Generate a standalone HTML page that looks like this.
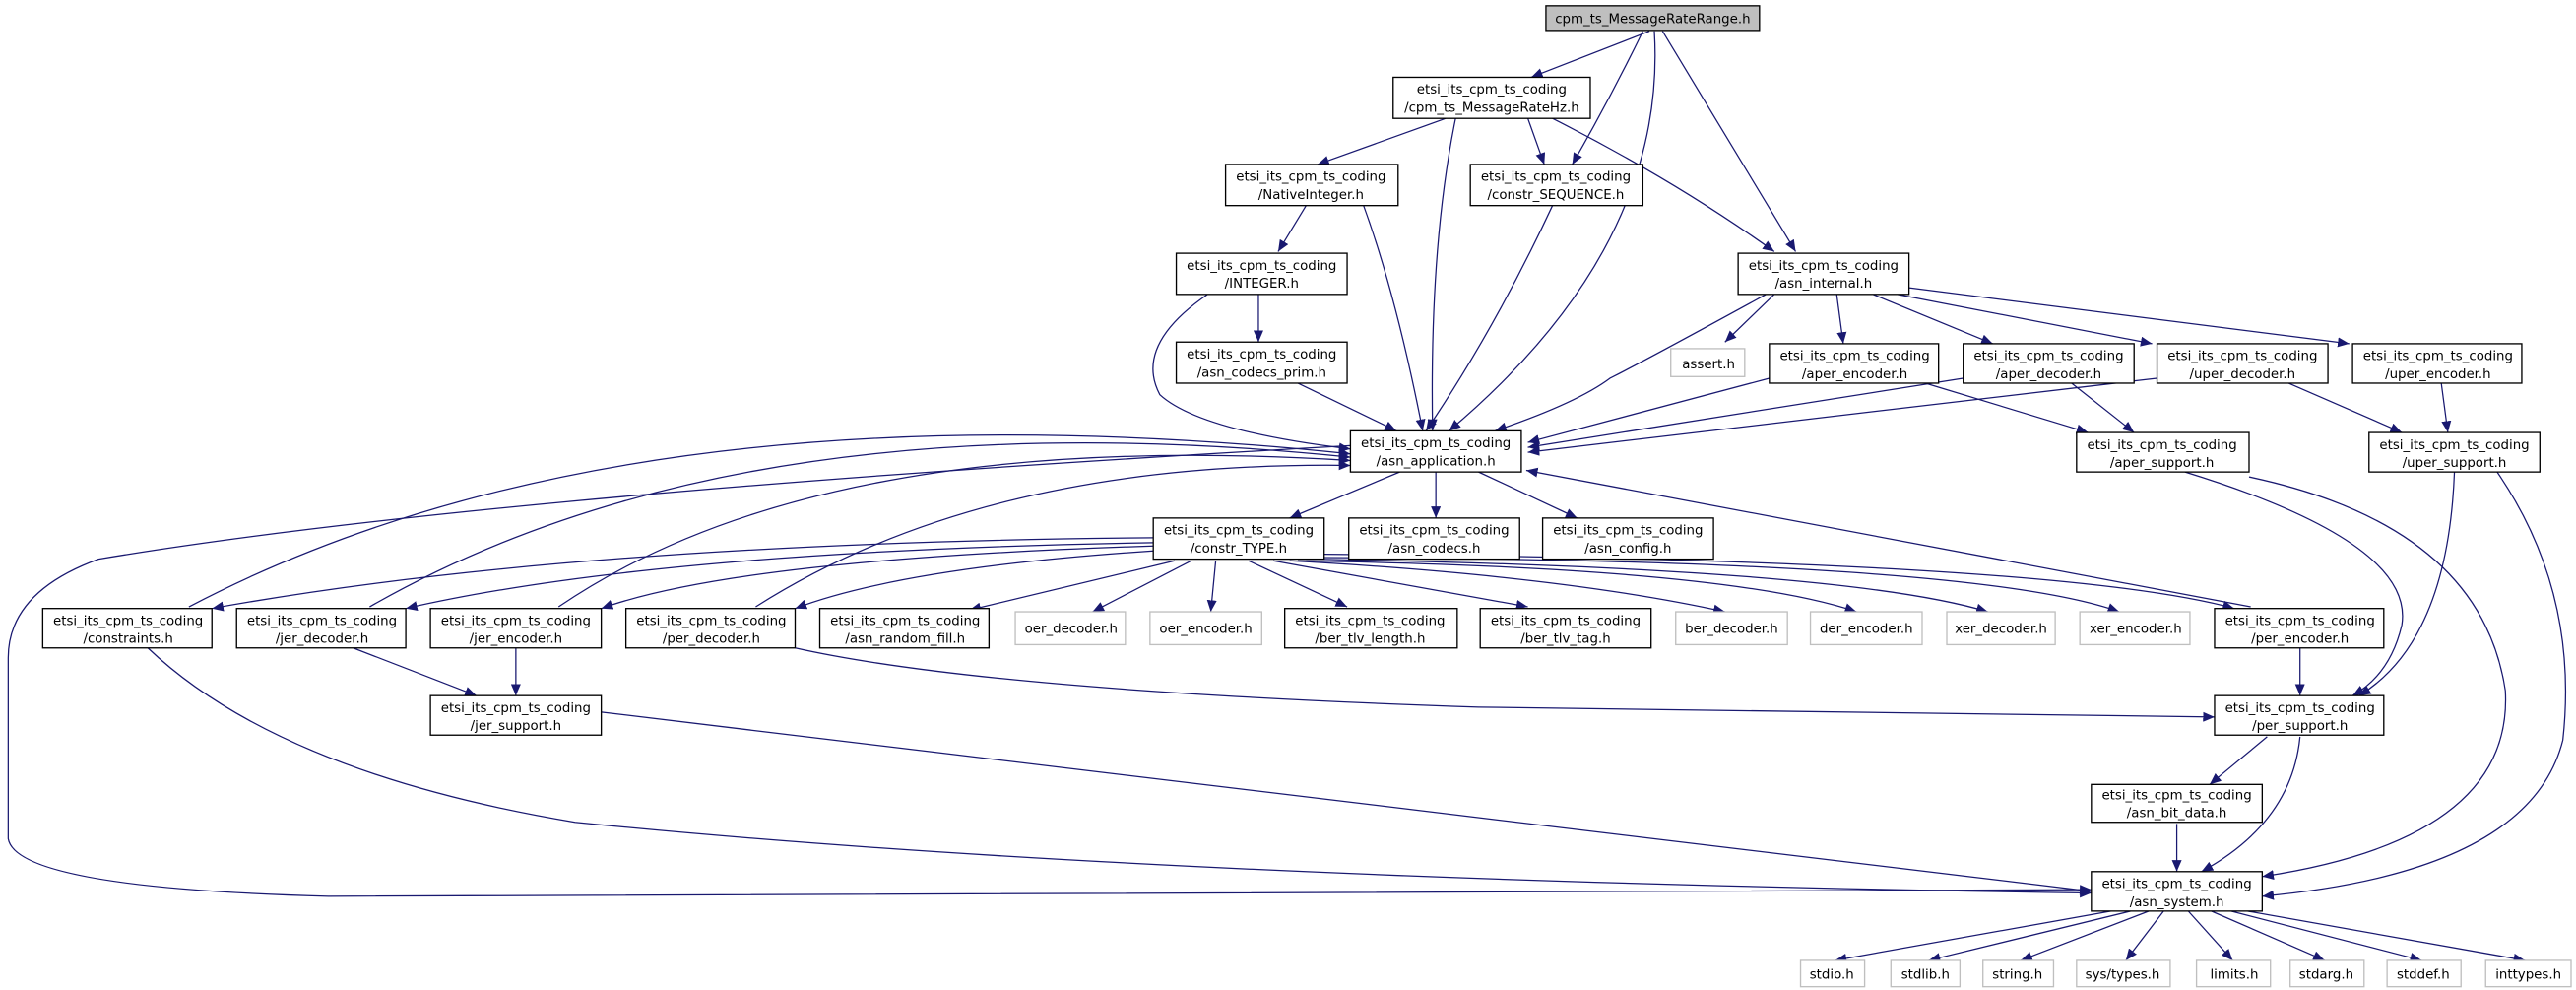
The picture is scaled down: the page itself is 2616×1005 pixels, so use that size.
<!DOCTYPE html>
<html><head><meta charset="utf-8"><style>
html,body{margin:0;padding:0;background:#fff;}
svg{display:block;}
text{font-family:"DejaVu Sans","Liberation Sans",sans-serif;font-size:8px;text-anchor:middle;fill:#000;}
.e{fill:none;stroke:#191970;stroke-width:0.75;}
.n{fill:#fff;stroke:#000;stroke-width:0.8;}
.g{fill:#fff;stroke:#bfbfbf;stroke-width:0.8;}
</style></head><body>
<svg width="2616" height="1005" viewBox="0 0 1568 602" preserveAspectRatio="none" xmlns="http://www.w3.org/2000/svg">
<defs>
<marker id="a" markerUnits="userSpaceOnUse" markerWidth="8" markerHeight="6" refX="7" refY="3" orient="auto">
<path d="M0,0 L7,3 L0,6 z" fill="#191970"/></marker>
</defs>
<g marker-end="url(#a)">
<path class="e" d="M1004,19 L932,47"/>
<path class="e" d="M1000,19 Q980,60 957,100"/>
<path class="e" d="M1007,19 Q1015,150 882,262"/>
<path class="e" d="M1012,19 L1093,153"/>
<path class="e" d="M880,72 L802,100"/>
<path class="e" d="M886,72 Q870,150 872,262"/>
<path class="e" d="M930,72 L940,100"/>
<path class="e" d="M945,72 Q1020,110 1080,153"/>
<path class="e" d="M795,125 L778,153"/>
<path class="e" d="M830,125 Q850,180 866,262"/>
<path class="e" d="M945,125 Q910,200 868,262"/>
<path class="e" d="M766,179 L766,208"/>
<path class="e" d="M735,179 Q690,210 706,240 Q730,262 822,273"/>
<path class="e" d="M790,233 L850,262"/>
<path class="e" d="M1075,179 Q1000,220 980,230 Q960,245 910,262"/>
<path class="e" d="M1080,179 L1050,208"/>
<path class="e" d="M1118,179 L1122,209"/>
<path class="e" d="M1140,179 L1213,209"/>
<path class="e" d="M1155,179 L1310,209"/>
<path class="e" d="M1162,175 L1430,209"/>
<path class="e" d="M1077,230 L930,269"/>
<path class="e" d="M1195,230 L930,272"/>
<path class="e" d="M1313,230 L930,275"/>
<path class="e" d="M1172,233 L1271,263"/>
<path class="e" d="M1261,233 L1299,263"/>
<path class="e" d="M1393,233 L1462,263"/>
<path class="e" d="M1486,233 L1490,263"/>
<path class="e" d="M852,287 L785,315"/>
<path class="e" d="M874,287 L874,315"/>
<path class="e" d="M900,287 L960,315"/>
<path class="e" d="M115,369 Q380,230 822,276"/>
<path class="e" d="M225,369 Q450,240 822,278"/>
<path class="e" d="M340,369 Q500,260 822,280"/>
<path class="e" d="M460,369 Q600,280 822,283"/>
<path class="e" d="M1370,369 L929,286"/>
<path class="e" d="M822,271 Q300,300 60,340 Q5,360 5,400 L5,510 Q10,540 200,545 Q800,545 1273,541"/>
<path class="e" d="M702,327 Q350,330 129,370"/>
<path class="e" d="M702,330 Q400,335 247,370"/>
<path class="e" d="M702,332 Q450,340 366,370"/>
<path class="e" d="M702,335 Q550,345 484,370"/>
<path class="e" d="M715,341 L590,371"/>
<path class="e" d="M725,341 L665,372"/>
<path class="e" d="M740,341 L737,372"/>
<path class="e" d="M760,341 L820,369"/>
<path class="e" d="M775,341 L930,369"/>
<path class="e" d="M785,341 Q950,350 1050,372"/>
<path class="e" d="M790,341 Q1050,345 1130,372"/>
<path class="e" d="M795,340 Q1120,345 1210,372"/>
<path class="e" d="M800,339 Q1200,340 1290,372"/>
<path class="e" d="M806,337 Q1250,340 1360,370"/>
<path class="e" d="M90,394 Q170,470 350,500 Q700,535 1273,543"/>
<path class="e" d="M215,394 L290,423"/>
<path class="e" d="M314,394 L314,423"/>
<path class="e" d="M366,433 L1273,542"/>
<path class="e" d="M484,394 Q600,420 900,430 L1348,436"/>
<path class="e" d="M1400,394 L1400,423"/>
<path class="e" d="M1330,287 Q1470,330 1462,380 Q1455,410 1432,423"/>
<path class="e" d="M1369,290 Q1510,320 1525,420 Q1530,510 1377,533"/>
<path class="e" d="M1494,287 Q1490,390 1436,423"/>
<path class="e" d="M1520,287 Q1570,360 1560,450 Q1540,530 1377,545"/>
<path class="e" d="M1380,448 L1345,477"/>
<path class="e" d="M1400,448 Q1395,500 1340,530"/>
<path class="e" d="M1325,501 L1325,530"/>
<path class="e" d="M1285,554 L1117,584"/>
<path class="e" d="M1297,554 L1174,584"/>
<path class="e" d="M1308,554 L1230,584"/>
<path class="e" d="M1317,554 L1294,584"/>
<path class="e" d="M1332,554 L1359,584"/>
<path class="e" d="M1346,554 L1415,584"/>
<path class="e" d="M1358,554 L1474,584"/>
<path class="e" d="M1368,554 L1537,584"/>
</g>

<rect x="941" y="3.5" width="130" height="15" fill="#bfbfbf" stroke="#000" stroke-width="0.8"/><text x="1006" y="14">cpm_ts_MessageRateRange.h</text>
<g>
<rect class="n" x="848" y="47" width="120" height="25"/><text x="908" y="57">etsi_its_cpm_ts_coding</text><text x="908" y="68">/cpm_ts_MessageRateHz.h</text>
<rect class="n" x="746" y="100" width="105" height="25"/><text x="798" y="110">etsi_its_cpm_ts_coding</text><text x="798" y="121">/NativeInteger.h</text>
<rect class="n" x="895" y="100" width="105" height="25"/><text x="947" y="110">etsi_its_cpm_ts_coding</text><text x="947" y="121">/constr_SEQUENCE.h</text>
<rect class="n" x="716" y="154" width="104" height="25"/><text x="768" y="164">etsi_its_cpm_ts_coding</text><text x="768" y="175">/INTEGER.h</text>
<rect class="n" x="716" y="208" width="104" height="25"/><text x="768" y="218">etsi_its_cpm_ts_coding</text><text x="768" y="229">/asn_codecs_prim.h</text>
<rect class="n" x="1058" y="154" width="104" height="25"/><text x="1110" y="164">etsi_its_cpm_ts_coding</text><text x="1110" y="175">/asn_internal.h</text>
<rect class="g" x="1017" y="212" width="45" height="17"/><text x="1040" y="224">assert.h</text>
<rect class="n" x="1077" y="209" width="103" height="24"/><text x="1129" y="219">etsi_its_cpm_ts_coding</text><text x="1129" y="230">/aper_encoder.h</text>
<rect class="n" x="1195" y="209" width="104" height="24"/><text x="1247" y="219">etsi_its_cpm_ts_coding</text><text x="1247" y="230">/aper_decoder.h</text>
<rect class="n" x="1313" y="209" width="104" height="24"/><text x="1365" y="219">etsi_its_cpm_ts_coding</text><text x="1365" y="230">/uper_decoder.h</text>
<rect class="n" x="1432" y="209" width="103" height="24"/><text x="1484" y="219">etsi_its_cpm_ts_coding</text><text x="1484" y="230">/uper_encoder.h</text>
<rect class="n" x="822" y="262" width="104" height="25"/><text x="874" y="272">etsi_its_cpm_ts_coding</text><text x="874" y="283">/asn_application.h</text>
<rect class="n" x="1264" y="263" width="105" height="24"/><text x="1316" y="273">etsi_its_cpm_ts_coding</text><text x="1316" y="284">/aper_support.h</text>
<rect class="n" x="1442" y="263" width="104" height="24"/><text x="1494" y="273">etsi_its_cpm_ts_coding</text><text x="1494" y="284">/uper_support.h</text>
<rect class="n" x="702" y="315" width="104" height="25"/><text x="754" y="325">etsi_its_cpm_ts_coding</text><text x="754" y="336">/constr_TYPE.h</text>
<rect class="n" x="821" y="315" width="104" height="25"/><text x="873" y="325">etsi_its_cpm_ts_coding</text><text x="873" y="336">/asn_codecs.h</text>
<rect class="n" x="939" y="315" width="104" height="25"/><text x="991" y="325">etsi_its_cpm_ts_coding</text><text x="991" y="336">/asn_config.h</text>
<rect class="n" x="26" y="370" width="103" height="24"/><text x="78" y="380">etsi_its_cpm_ts_coding</text><text x="78" y="391">/constraints.h</text>
<rect class="n" x="144" y="370" width="103" height="24"/><text x="196" y="380">etsi_its_cpm_ts_coding</text><text x="196" y="391">/jer_decoder.h</text>
<rect class="n" x="262" y="370" width="104" height="24"/><text x="314" y="380">etsi_its_cpm_ts_coding</text><text x="314" y="391">/jer_encoder.h</text>
<rect class="n" x="381" y="370" width="103" height="24"/><text x="433" y="380">etsi_its_cpm_ts_coding</text><text x="433" y="391">/per_decoder.h</text>
<rect class="n" x="499" y="370" width="103" height="24"/><text x="551" y="380">etsi_its_cpm_ts_coding</text><text x="551" y="391">/asn_random_fill.h</text>
<rect class="g" x="618" y="372" width="67" height="20"/><text x="652" y="385">oer_decoder.h</text>
<rect class="g" x="700" y="372" width="68" height="20"/><text x="734" y="385">oer_encoder.h</text>
<rect class="n" x="782" y="370" width="105" height="24"/><text x="834" y="380">etsi_its_cpm_ts_coding</text><text x="834" y="391">/ber_tlv_length.h</text>
<rect class="n" x="901" y="370" width="104" height="24"/><text x="953" y="380">etsi_its_cpm_ts_coding</text><text x="953" y="391">/ber_tlv_tag.h</text>
<rect class="g" x="1020" y="372" width="68" height="20"/><text x="1054" y="385">ber_decoder.h</text>
<rect class="g" x="1102" y="372" width="68" height="20"/><text x="1136" y="385">der_encoder.h</text>
<rect class="g" x="1185" y="372" width="66" height="20"/><text x="1218" y="385">xer_decoder.h</text>
<rect class="g" x="1266" y="372" width="67" height="20"/><text x="1300" y="385">xer_encoder.h</text>
<rect class="n" x="1348" y="370" width="103" height="24"/><text x="1400" y="380">etsi_its_cpm_ts_coding</text><text x="1400" y="391">/per_encoder.h</text>
<rect class="n" x="262" y="423" width="104" height="24"/><text x="314" y="433">etsi_its_cpm_ts_coding</text><text x="314" y="444">/jer_support.h</text>
<rect class="n" x="1348" y="423" width="103" height="24"/><text x="1400" y="433">etsi_its_cpm_ts_coding</text><text x="1400" y="444">/per_support.h</text>
<rect class="n" x="1273" y="477" width="104" height="23"/><text x="1325" y="486">etsi_its_cpm_ts_coding</text><text x="1325" y="497">/asn_bit_data.h</text>
<rect class="n" x="1273" y="530" width="104" height="24"/><text x="1325" y="540">etsi_its_cpm_ts_coding</text><text x="1325" y="551">/asn_system.h</text>
<rect class="g" x="1096" y="584" width="39" height="16"/><text x="1115" y="595">stdio.h</text>
<rect class="g" x="1151" y="584" width="42" height="16"/><text x="1172" y="595">stdlib.h</text>
<rect class="g" x="1207" y="584" width="43" height="16"/><text x="1228" y="595">string.h</text>
<rect class="g" x="1264" y="584" width="57" height="16"/><text x="1292" y="595">sys/types.h</text>
<rect class="g" x="1337" y="584" width="45" height="16"/><text x="1360" y="595">limits.h</text>
<rect class="g" x="1394" y="584" width="45" height="16"/><text x="1416" y="595">stdarg.h</text>
<rect class="g" x="1453" y="584" width="45" height="16"/><text x="1475" y="595">stddef.h</text>
<rect class="g" x="1513" y="584" width="52" height="16"/><text x="1539" y="595">inttypes.h</text>
</g>
</svg>
</body></html>
